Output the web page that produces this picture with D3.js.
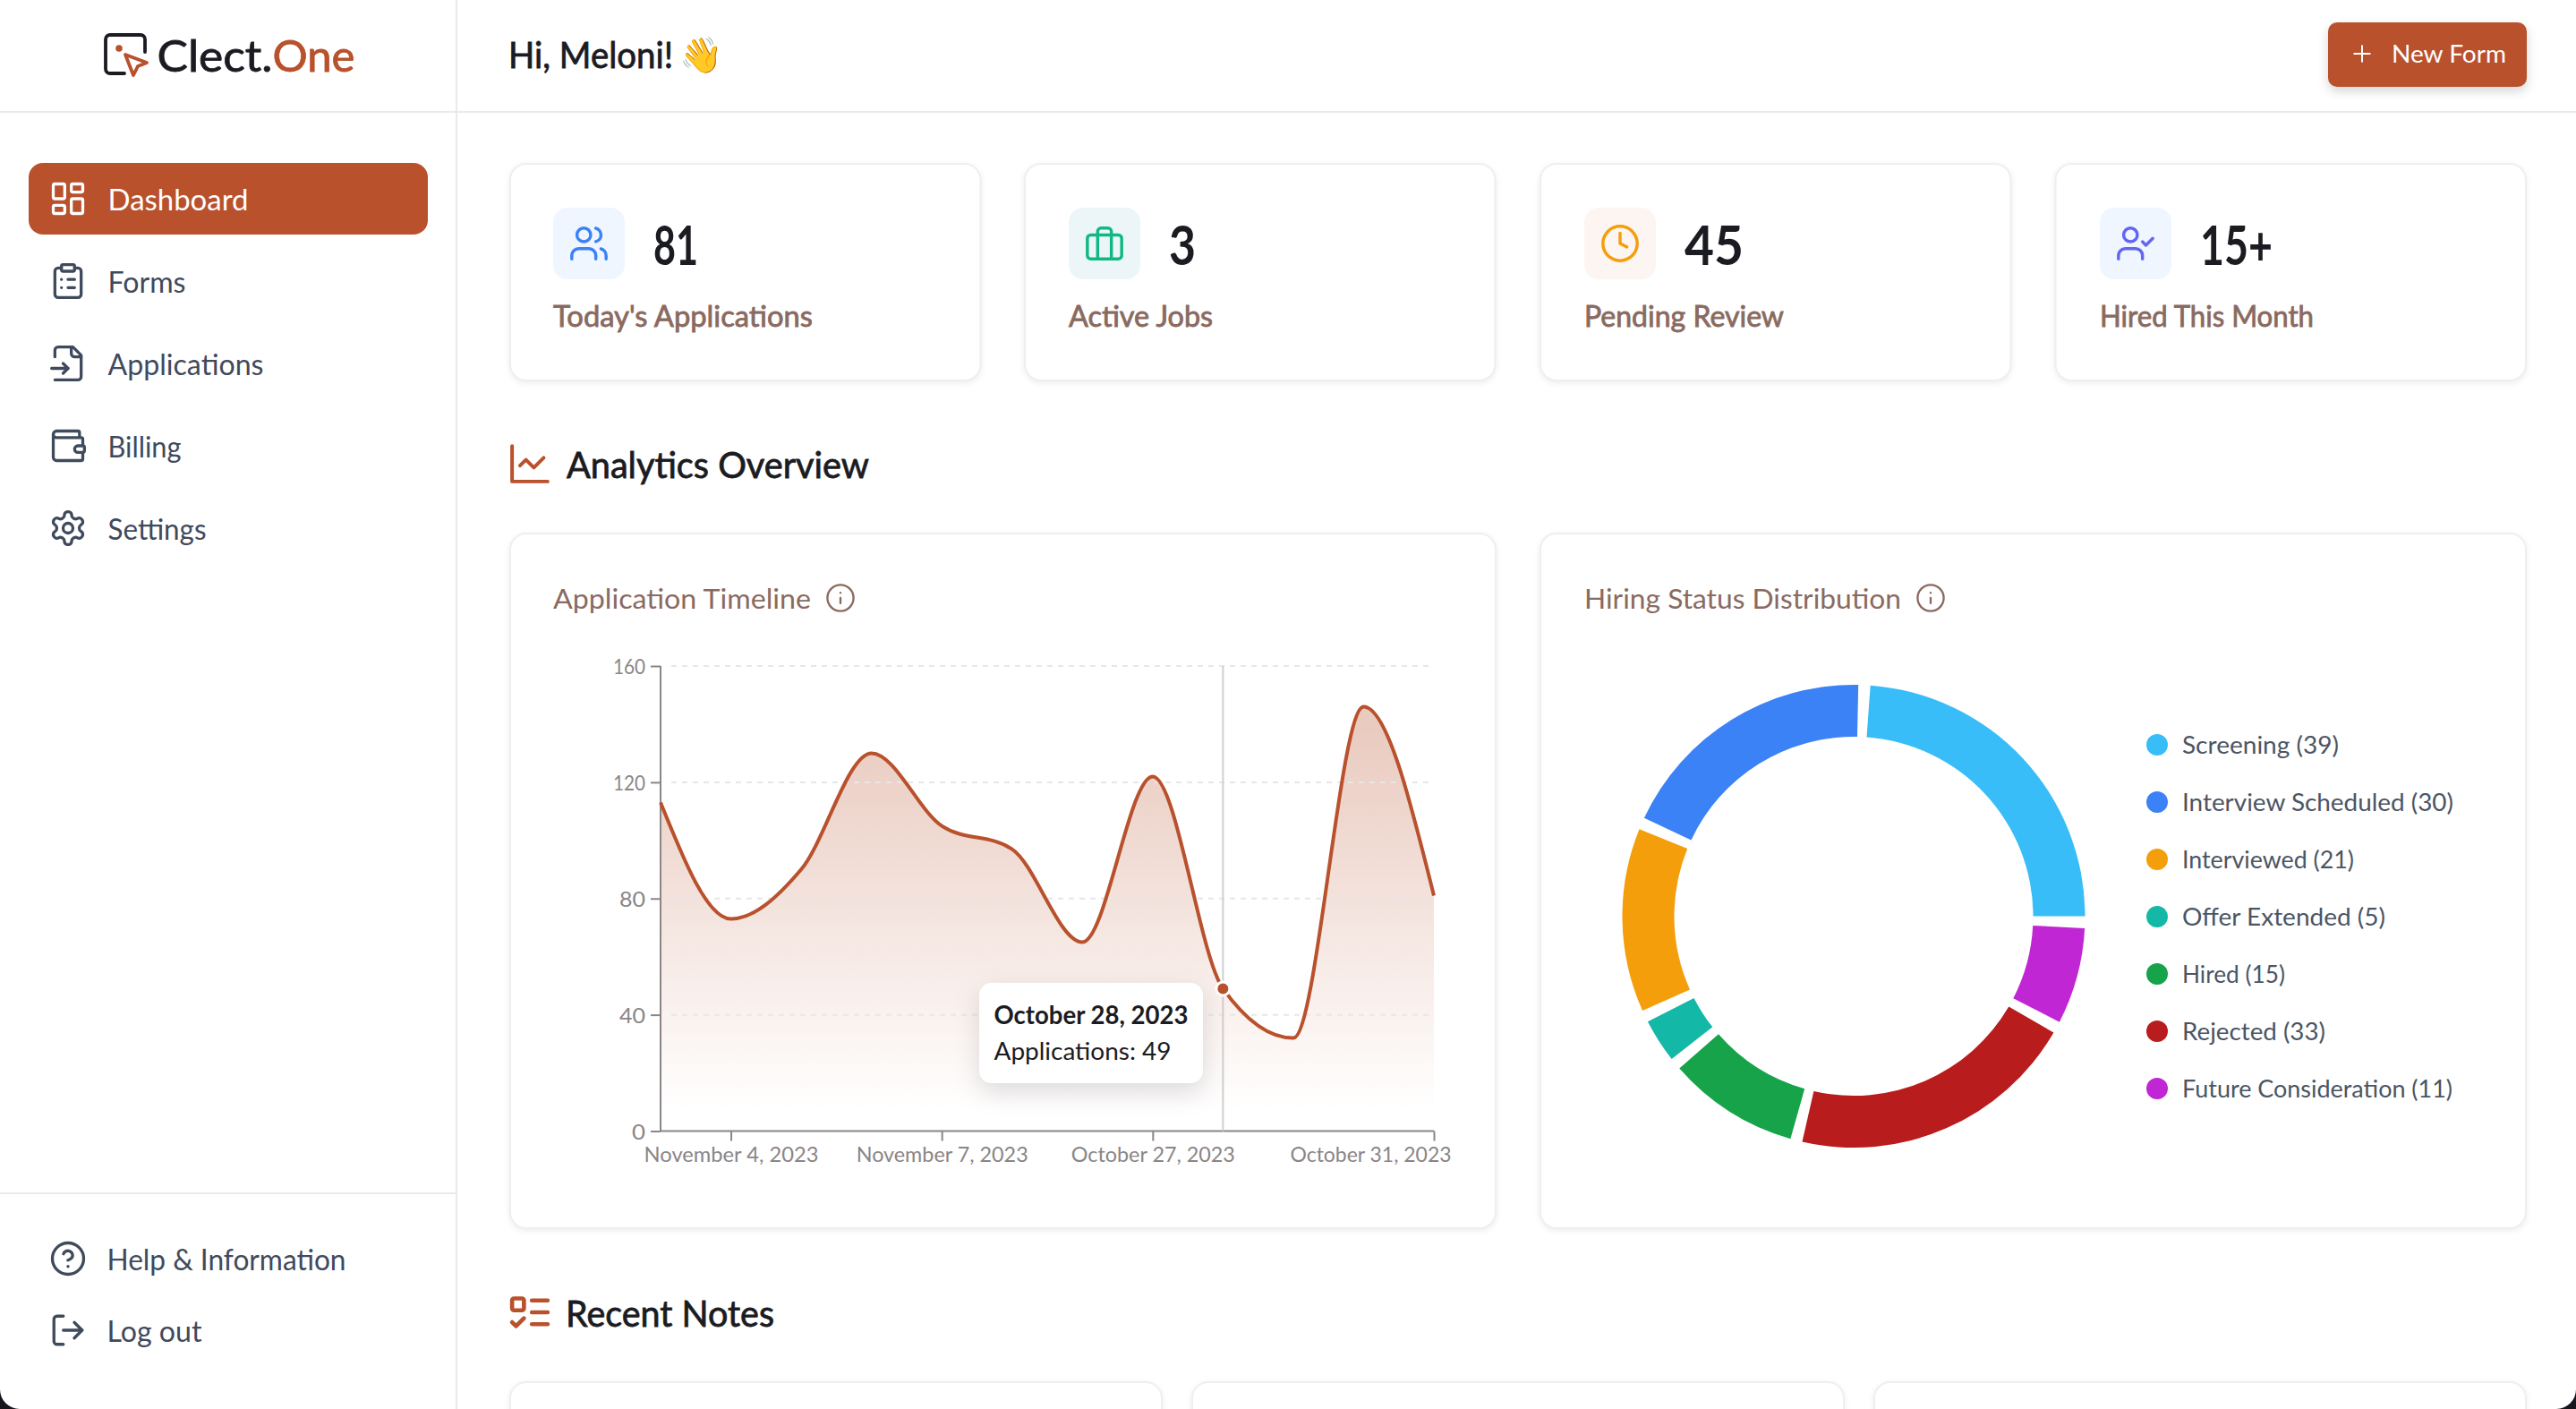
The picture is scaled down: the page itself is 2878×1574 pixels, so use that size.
<!DOCTYPE html>
<html>
  <head>
    <meta charset="utf-8" />
    <title>Clect.One Dashboard</title>
    <style>
      html, body { margin: 0; padding: 0; background: #fff; overflow: hidden; }
      svg { display: block; }
      text { font-family: Lato, "Noto Sans", sans-serif; }
    </style>
  </head>
  <body>
    <svg id="page" width="2878" height="1574"></svg>
    <script src="https://d3js.org/d3.v7.min.js"></script>
    <script>
      // timeline
      const dates = [
        "November 3, 2023", "November 4, 2023", "November 5, 2023", "November 6, 2023",
        "November 7, 2023", "November 8, 2023", "October 26, 2023", "October 27, 2023",
        "October 28, 2023", "October 29, 2023", "October 30, 2023", "October 31, 2023",
      ];
      const applications = [113, 73, 90, 130, 105, 97, 65, 122, 49, 32, 146, 81];
      const xTickLabels = ["November 4, 2023", "November 7, 2023", "October 27, 2023", "October 31, 2023"];
      const yTicks = [0, 40, 80, 120, 160];
      const hoverDate = "October 28, 2023";

      // donut
      const statuses = ["Screening", "Interview Scheduled", "Interviewed", "Offer Extended", "Hired", "Rejected", "Future Consideration"];
      const statusCounts = [39, 30, 21, 5, 15, 33, 11];
      const statusColors = ["#38bdf8", "#3b82f6", "#f59e0b", "#14b8a6", "#16a34a", "#b91c1c", "#c026d3"];

      // stat cards
      const statValues = ["81", "3", "45", "15+"];
      const statLabels = ["Today's Applications", "Active Jobs", "Pending Review", "Hired This Month"];

      const navItems = ["Dashboard", "Forms", "Applications", "Billing", "Settings"];

      const rust = "#b8512c";
      const ink = "#1b1b22";
      const slate = "#3f4a5c";
      const taupe = "#8a6a60";
      const line = "#ece9e9";

      const svg = d3.select("#page");

      const defs = svg.append("defs");
      const grad = defs.append("linearGradient").attr("id", "areaFill")
        .attr("x1", 0).attr("y1", 0).attr("x2", 0).attr("y2", 1);
      grad.append("stop").attr("offset", "5%").attr("stop-color", rust).attr("stop-opacity", 0.3);
      grad.append("stop").attr("offset", "95%").attr("stop-color", rust).attr("stop-opacity", 0);

      // text helper, w forces the measured width of the original
      // Lato has no medium cut here so 500 is regular plus a thin outline
      function label(parent, str, x, y, size, weight, color, w) {
        const t = parent.append("text").attr("x", x).attr("y", y)
          .attr("font-size", size).attr("font-weight", weight === 500 ? 400 : weight).attr("fill", color).text(str);
        if (weight === 500) t.attr("stroke", color).attr("stroke-width", 0.8);
        if (w) t.attr("textLength", w).attr("lengthAdjust", "spacingAndGlyphs");
        return t;
      }

      // icon helper: lucide style 24 box, centred on cx,cy
      const icons = {
        dashboard: '<rect x="3" y="3" width="7" height="9" rx="1"/><rect x="14" y="3" width="7" height="5" rx="1"/><rect x="14" y="12" width="7" height="9" rx="1"/><rect x="3" y="16" width="7" height="5" rx="1"/>',
        forms: '<rect x="8" y="2" width="8" height="4" rx="1"/><path d="M16 4h2a2 2 0 0 1 2 2v14a2 2 0 0 1-2 2H6a2 2 0 0 1-2-2V6a2 2 0 0 1 2-2h2"/><path d="M12 11h4M12 16h4M8 11h.01M8 16h.01"/>',
        applications: '<path d="M4 22h14a2 2 0 0 0 2-2V7l-5-5H6a2 2 0 0 0-2 2v4"/><path d="M14 2v4a2 2 0 0 0 2 2h4"/><path d="M2 15h10"/><path d="m9 18 3-3-3-3"/>',
        billing: '<path d="M19 7V4a1 1 0 0 0-1-1H5a2 2 0 0 0 0 4h15a1 1 0 0 1 1 1v4h-3a2 2 0 0 0 0 4h3a1 1 0 0 0 1-1v-2a1 1 0 0 0-1-1"/><path d="M3 5v14a2 2 0 0 0 2 2h15a1 1 0 0 0 1-1v-4"/>',
        settings: '<path d="M12.22 2h-.44a2 2 0 0 0-2 2v.18a2 2 0 0 1-1 1.73l-.43.25a2 2 0 0 1-2 0l-.15-.08a2 2 0 0 0-2.73.73l-.22.38a2 2 0 0 0 .73 2.73l.15.1a2 2 0 0 1 1 1.72v.51a2 2 0 0 1-1 1.74l-.15.09a2 2 0 0 0-.73 2.73l.22.38a2 2 0 0 0 2.73.73l.15-.08a2 2 0 0 1 2 0l.43.25a2 2 0 0 1 1 1.73V20a2 2 0 0 0 2 2h.44a2 2 0 0 0 2-2v-.18a2 2 0 0 1 1-1.73l.43-.25a2 2 0 0 1 2 0l.15.08a2 2 0 0 0 2.73-.73l.22-.39a2 2 0 0 0-.73-2.73l-.15-.08a2 2 0 0 1-1-1.74v-.5a2 2 0 0 1 1-1.74l.15-.09a2 2 0 0 0 .73-2.73l-.22-.38a2 2 0 0 0-2.73-.73l-.15.08a2 2 0 0 1-2 0l-.43-.25a2 2 0 0 1-1-1.73V4a2 2 0 0 0-2-2z"/><circle cx="12" cy="12" r="3"/>',
        help: '<circle cx="12" cy="12" r="10"/><path d="M9.09 9a3 3 0 0 1 5.83 1c0 2-3 3-3 3"/><path d="M12 17h.01"/>',
        logout: '<path d="M9 21H5a2 2 0 0 1-2-2V5a2 2 0 0 1 2-2h4"/><path d="m16 17 5-5-5-5"/><path d="M21 12H9"/>',
        users: '<path d="M16 21v-2a4 4 0 0 0-4-4H6a4 4 0 0 0-4 4v2"/><circle cx="9" cy="7" r="4"/><path d="M22 21v-2a4 4 0 0 0-3-3.87"/><path d="M16 3.13a4 4 0 0 1 0 7.75"/>',
        briefcase: '<rect x="2" y="7" width="20" height="14" rx="2"/><path d="M16 21V5a2 2 0 0 0-2-2h-4a2 2 0 0 0-2 2v16"/>',
        clock: '<circle cx="12" cy="12" r="10"/><path d="M12 6v6l4 2"/>',
        userCheck: '<path d="M16 21v-2a4 4 0 0 0-4-4H6a4 4 0 0 0-4 4v2"/><circle cx="9" cy="7" r="4"/><path d="m16 11 2 2 4-4"/>',
        chart: '<path d="M3 3v18h18"/><path d="m19 9-5 5-4-4-3 3"/>',
        todo: '<rect x="3" y="5" width="6" height="6" rx="1"/><path d="m3 17 2 2 4-4"/><path d="M13 6h8M13 12h8M13 18h8"/>',
        info: '<circle cx="12" cy="12" r="10"/><path d="M12 16v-4"/><path d="M12 8h.01"/>',
        plus: '<path d="M5 12h14"/><path d="M12 5v14"/>',
      };
      function icon(name, cx, cy, size, color, sw) {
        svg.append("g")
          .attr("transform", `translate(${cx - size / 2},${cy - size / 2}) scale(${size / 24})`)
          .attr("fill", "none").attr("stroke", color).attr("stroke-width", sw)
          .attr("stroke-linecap", "round").attr("stroke-linejoin", "round")
          .html(icons[name]);
      }

      function card(x, y, w, h) {
        svg.append("rect").attr("x", x + 1).attr("y", y + 1).attr("width", w - 2).attr("height", h - 2)
          .attr("rx", 18).attr("fill", "#fff").attr("stroke", "#f0eeee").attr("stroke-width", 2)
          .style("filter", "drop-shadow(0 2px 3px rgba(0,0,0,0.07))");
      }

      // page frame
      svg.append("line").attr("x1", 510).attr("x2", 510).attr("y1", 0).attr("y2", 1574).attr("stroke", line).attr("stroke-width", 2);
      svg.append("line").attr("x1", 0).attr("x2", 2878).attr("y1", 125).attr("y2", 125).attr("stroke", line).attr("stroke-width", 2);
      svg.append("line").attr("x1", 0).attr("x2", 510).attr("y1", 1333).attr("y2", 1333).attr("stroke", line).attr("stroke-width", 2);

      // logo
      svg.append("path").attr("d", "M139 82H123a5 5 0 0 1-5-5V44a5 5 0 0 1 5-5H157a5 5 0 0 1 5 5V58")
        .attr("fill", "none").attr("stroke", ink).attr("stroke-width", 3.8).attr("stroke-linecap", "round");
      svg.append("path").attr("d", "M140 61L164 70L154 74L149 84Z")
        .attr("fill", "none").attr("stroke", rust).attr("stroke-width", 3.8).attr("stroke-linejoin", "round");
      svg.append("circle").attr("cx", 133).attr("cy", 54).attr("r", 3.8).attr("fill", rust);
      label(svg, "Clect.", 175.5, 80, 48, 500, ink, 129);
      label(svg, "One", 304.5, 80, 48, 500, rust, 92);

      // header
      label(svg, "Hi, Meloni!", 568, 76, 40, 500, ink, 184);
      label(svg, "👋", 759, 75, 39, 400, ink);
      svg.append("rect").attr("x", 2601).attr("y", 25).attr("width", 222).attr("height", 72).attr("rx", 10)
        .attr("fill", rust).style("filter", "drop-shadow(0 5px 6px rgba(0,0,0,0.16))");
      icon("plus", 2639, 60, 30, "#fff", 1.6);
      label(svg, "New Form", 2672, 70, 26, 400, "#fff", 128);

      // sidebar
      svg.append("rect").attr("x", 32).attr("y", 182).attr("width", 446).attr("height", 80).attr("rx", 16).attr("fill", rust);
      const navIcons = ["dashboard", "forms", "applications", "billing", "settings"];
      const navWidths = [157, 87, 174, 82, 110];
      navItems.forEach((name, i) => {
        const c = i === 0 ? "#fff" : slate;
        icon(navIcons[i], 76, 222 + i * 92, 44, c, 1.8);
        label(svg, name, 120.5, 235 + i * 92, 32, 400, c, navWidths[i]);
      });
      icon("help", 76, 1406, 42, slate, 1.9);
      label(svg, "Help & Information", 119.5, 1419, 32, 400, slate, 267);
      icon("logout", 76, 1486, 42, slate, 1.9);
      label(svg, "Log out", 119.5, 1499, 32, 400, slate, 106);

      // stat cards
      const statIcons = ["users", "briefcase", "clock", "userCheck"];
      const statIconColors = ["#3b82f6", "#10b981", "#f59e0b", "#6366f1"];
      const statBoxes = ["#eff6ff", "#ecf6f8", "#fdf5f2", "#eff6ff"];
      const statNumWidths = [50, 30, 66, 81];
      const statLabelWidths = [290, 161, 223, 239];
      const statCardX = [569, 1144, 1720, 2295.5];
      statValues.forEach((v, i) => {
        const x = 569 + i * 576;
        card(statCardX[i], 182, 527.5, 244);
        svg.append("rect").attr("x", x + 49).attr("y", 232).attr("width", 80).attr("height", 80).attr("rx", 16).attr("fill", statBoxes[i]);
        icon(statIcons[i], x + 89, 272, 46, statIconColors[i], 1.8);
        label(svg, v, x + 161, 296, 62, 700, ink, statNumWidths[i]);
        label(svg, statLabels[i], x + 49, 365, 32, 500, taupe, statLabelWidths[i]);
      });

      // section headings
      icon("chart", 592, 518, 53, rust, 1.8);
      label(svg, "Analytics Overview", 633, 534, 41, 500, ink, 338);
      icon("todo", 592, 1466, 53, rust, 2.1);
      label(svg, "Recent Notes", 632, 1482, 41, 500, ink, 233);

      // chart cards
      card(569, 595, 1103, 778);
      card(1720, 595, 1103, 778);
      [569, 1331, 2093].forEach((x) => card(x, 1543, 730, 80));

      label(svg, "Application Timeline", 618, 680, 30, 400, taupe, 288);
      icon("info", 939, 668, 35, taupe, 1.6);
      label(svg, "Hiring Status Distribution", 1770, 680, 30, 400, taupe, 354);
      icon("info", 2157, 668, 35, taupe, 1.6);

      // timeline chart
      const x = d3.scalePoint().domain(dates).range([738, 1602]);
      const y = d3.scaleLinear().domain([0, 160]).range([1263.5, 744]);
      const chart = svg.append("g");

      chart.append("path").datum(applications)
        .attr("fill", "url(#areaFill)")
        .attr("d", d3.area().x((d, i) => x(dates[i])).y0(y(0)).y1((d) => y(d)).curve(d3.curveMonotoneX));

      chart.selectAll(".grid").data(yTicks.slice(1)).enter().append("line")
        .attr("class", "grid").attr("x1", 750).attr("x2", 1597)
        .attr("y1", (d) => y(d)).attr("y2", (d) => y(d))
        .attr("stroke", "#e8e6e6").attr("stroke-width", 2).attr("stroke-dasharray", "6 6");

      const axisColor = "#8a8586";
      const yAxis = chart.append("g").attr("transform", "translate(738,0)")
        .call(d3.axisLeft(y).tickValues(yTicks).tickSize(11).tickPadding(6));
      const xAxis = chart.append("g").attr("transform", `translate(0,${y(0)})`)
        .call(d3.axisBottom(x).tickValues(xTickLabels).tickSize(11).tickPadding(6).tickSizeOuter(0));
      [xAxis, yAxis].forEach((a) => {
        a.selectAll("path,line").attr("stroke", axisColor).attr("stroke-width", 2);
        a.selectAll("text").attr("fill", axisColor).style("font-size", "23px");
      });
      yAxis.select(".domain").attr("d", `M0,${y(160)}V${y(0)}`);
      xAxis.select(".domain").attr("d", "M738,0H1602");
      yAxis.selectAll("text").attr("y", 1.5)
        .attr("textLength", (d) => (d >= 100 ? 36 : d > 0 ? 29 : 15))
        .attr("lengthAdjust", "spacingAndGlyphs");
      xAxis.selectAll("text").attr("dy", "0").attr("y", 34)
        .attr("textLength", (d) => ({ "November 4, 2023": 195, "November 7, 2023": 192, "October 27, 2023": 183, "October 31, 2023": 180 }[d]))
        .attr("lengthAdjust", "spacingAndGlyphs");
      // last label is pulled back inside the card
      xAxis.selectAll("text").filter((d) => d === "October 31, 2023")
        .attr("text-anchor", "end").attr("x", 19);

      chart.append("path").datum(applications)
        .attr("fill", "none").attr("stroke", rust).attr("stroke-width", 4)
        .attr("d", d3.line().x((d, i) => x(dates[i])).y((d) => y(d)).curve(d3.curveMonotoneX));

      chart.append("line").attr("x1", x(hoverDate)).attr("x2", x(hoverDate)).attr("y1", y(160)).attr("y2", y(0))
        .attr("stroke", "#cfcfcf").attr("stroke-width", 2);
      chart.append("circle").attr("cx", x(hoverDate)).attr("cy", y(applications[dates.indexOf(hoverDate)]))
        .attr("r", 7.5).attr("fill", rust).attr("stroke", "#fff").attr("stroke-width", 3);

      // tooltip
      svg.append("rect").attr("x", 1094).attr("y", 1098).attr("width", 250).attr("height", 112).attr("rx", 14)
        .attr("fill", "#fff").style("filter", "drop-shadow(0 10px 14px rgba(0,0,0,0.13))");
      label(svg, hoverDate, 1110.5, 1144, 28, 700, ink, 217);
      label(svg, "Applications: " + applications[dates.indexOf(hoverDate)], 1110.5, 1184, 27, 400, ink, 198);

      // donut, runs counter clockwise from 3 o'clock
      const padAngle = (3 * Math.PI) / 180;
      const pie = d3.pie().sort(null).startAngle(Math.PI / 2).endAngle(Math.PI / 2 - 2 * Math.PI).padAngle(padAngle);
      const arc = d3.arc().innerRadius(200.5).outerRadius(258.5).padAngle(0)
        .startAngle((d) => d.startAngle).endAngle((d) => d.endAngle + padAngle);
      svg.append("g").attr("transform", "translate(2071,1023.5)")
        .selectAll("path").data(pie(statusCounts)).enter().append("path")
        .attr("d", arc).attr("fill", (d, i) => statusColors[i]);

      // legend
      const legendWidths = [175, 303, 192, 227, 115, 160, 302];
      const legendY = d3.scalePoint().domain(statuses).range([832, 1216]);
      statuses.forEach((s, i) => {
        svg.append("circle").attr("cx", 2410).attr("cy", legendY(s)).attr("r", 12).attr("fill", statusColors[i]);
        label(svg, `${s} (${statusCounts[i]})`, 2438, legendY(s) + 9.5, 27, 400, "#4b5563", legendWidths[i]);
      });

      // screenshot corners
      svg.append("path").attr("d", "M0 1552V1574H22A22 22 0 0 1 0 1552Z").attr("fill", "#16161c");
      svg.append("path").attr("d", "M2878 1552V1574H2856A22 22 0 0 0 2878 1552Z").attr("fill", "#16161c");
    </script>
  </body>
</html>
